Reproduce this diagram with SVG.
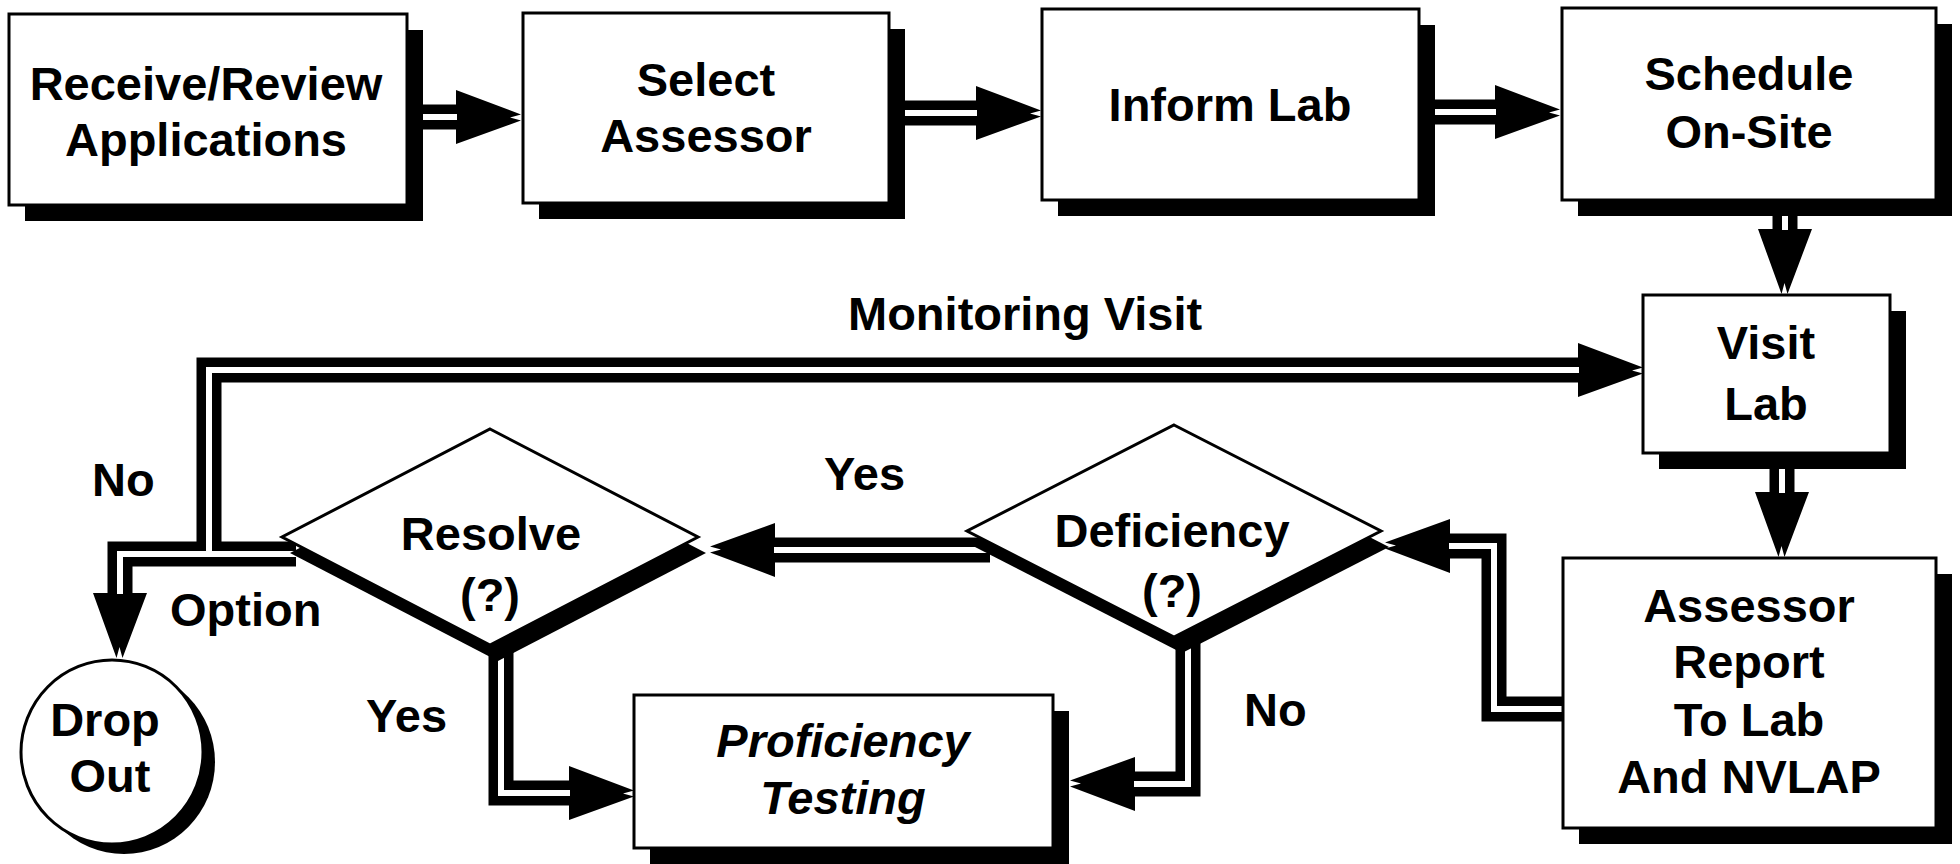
<svg xmlns="http://www.w3.org/2000/svg" width="1960" height="864" viewBox="0 0 1960 864">
<style>
.box{fill:#fff;stroke:#000;stroke-width:3}
.sh{fill:#000}
.t{font-family:"Liberation Sans",Arial,Helvetica,sans-serif;font-weight:bold;font-size:47px;fill:#000}
.c{text-anchor:middle}
.it{font-style:italic}
.outer{fill:none;stroke:#000;stroke-width:25;stroke-linejoin:miter;marker-end:url(#ah)}
.inner{fill:none;stroke:#fff;stroke-width:6;stroke-linejoin:miter}
</style>
<defs>
<marker id="ah" markerUnits="userSpaceOnUse" orient="auto" markerWidth="80" markerHeight="80" refX="0" refY="0" overflow="visible">
<path d="M-1,-27 L64,-2.5 L53,0.5 L64,3.5 L-1,27 Z" fill="#000"/>
</marker>
</defs>
<rect width="1960" height="864" fill="#fff"/>

<g id="connectors">
<g id="conn-outer">
<path class="outer" d="M410 117 H457"/>
<path class="outer" d="M895 113 H977"/>
<path class="outer" d="M1425 112 H1496"/>
<path class="outer" d="M1785 205 V230"/>
<path class="outer" d="M1782 460 V493"/>
<path class="outer" d="M296 554 H120 V594"/>
<path class="outer" d="M209 554 V370 H1579"/>
<path class="outer" d="M990 550 H774"/>
<path class="outer" d="M1575 709 H1494 V546 H1449"/>
<path class="outer" d="M501 640 V793 H570"/>
<path class="outer" d="M1188 640 V784 H1134"/>
</g>
<g id="conn-inner">
<path class="inner" d="M410 117 H457"/>
<path class="inner" d="M895 113 H977"/>
<path class="inner" d="M1425 112 H1496"/>
<path class="inner" d="M1785 205 V230"/>
<path class="inner" d="M1782 460 V493"/>
<path class="inner" d="M296 554 H120 V594"/>
<path class="inner" d="M209 554 V370 H1579"/>
<path class="inner" d="M990 550 H774"/>
<path class="inner" d="M1575 709 H1494 V546 H1449"/>
<path class="inner" d="M501 640 V793 H570"/>
<path class="inner" d="M1188 640 V784 H1134"/>
</g>
</g>

<g id="receive">
<rect class="sh" x="25" y="30" width="398" height="191"/>
<rect class="box" x="9" y="14" width="398" height="191"/>
<text class="t c" x="206" y="100">Receive/Review</text>
<text class="t c" x="206" y="156">Applications</text>
</g>
<g id="select">
<rect class="sh" x="539" y="29" width="366" height="190"/>
<rect class="box" x="523" y="13" width="366" height="190"/>
<text class="t c" x="706" y="96">Select</text>
<text class="t c" x="706" y="152">Assessor</text>
</g>
<g id="inform">
<rect class="sh" x="1058" y="25" width="377" height="191"/>
<rect class="box" x="1042" y="9" width="377" height="191"/>
<text class="t c" x="1230" y="121">Inform Lab</text>
</g>
<g id="schedule">
<rect class="sh" x="1578" y="24" width="374" height="192"/>
<rect class="box" x="1562" y="8" width="374" height="192"/>
<text class="t c" x="1749" y="90">Schedule</text>
<text class="t c" x="1749" y="148">On-Site</text>
</g>
<g id="visit">
<rect class="sh" x="1659" y="311" width="247" height="158"/>
<rect class="box" x="1643" y="295" width="247" height="158"/>
<text class="t c" x="1766" y="359">Visit</text>
<text class="t c" x="1766" y="420">Lab</text>
</g>
<g id="report">
<rect class="sh" x="1579" y="574" width="373" height="270"/>
<rect class="box" x="1563" y="558" width="373" height="270"/>
<text class="t c" x="1749" y="622">Assessor</text>
<text class="t c" x="1749" y="678">Report</text>
<text class="t c" x="1749" y="736">To Lab</text>
<text class="t c" x="1749" y="793">And NVLAP</text>
</g>
<g id="deficiency">
<polygon class="sh" points="1182,441 1389,547 1182,653 975,547"/>
<polygon class="box" points="1174,425 1381,531 1174,637 967,531"/>
<text class="t c" x="1172" y="547">Deficiency</text>
<text class="t c" x="1172" y="607">(?)</text>
</g>
<g id="resolve">
<polygon class="sh" points="498,445 706,553 498,661 290,553"/>
<polygon class="box" points="490,429 698,537 490,645 282,537"/>
<text class="t c" x="491" y="550">Resolve</text>
<text class="t c" x="490" y="611">(?)</text>
</g>
<g id="proficiency">
<rect class="sh" x="650" y="711" width="419" height="153"/>
<rect class="box" x="634" y="695" width="419" height="153"/>
<text class="t c it" x="843" y="757">Proficiency</text>
<text class="t c it" x="843" y="814">Testing</text>
</g>
<g id="dropout">
<ellipse class="sh" cx="124" cy="762" rx="91" ry="92"/>
<ellipse class="box" cx="112" cy="752" rx="91" ry="92"/>
<text class="t c" x="105" y="736">Drop</text>
<text class="t c" x="110" y="792">Out</text>
</g>

<g id="labels">
<text class="t" x="848" y="330">Monitoring Visit</text>
<text class="t" x="92" y="496">No</text>
<text class="t" x="170" y="626">Option</text>
<text class="t" x="824" y="490">Yes</text>
<text class="t" x="366" y="732">Yes</text>
<text class="t" x="1244" y="726">No</text>
</g>
</svg>
